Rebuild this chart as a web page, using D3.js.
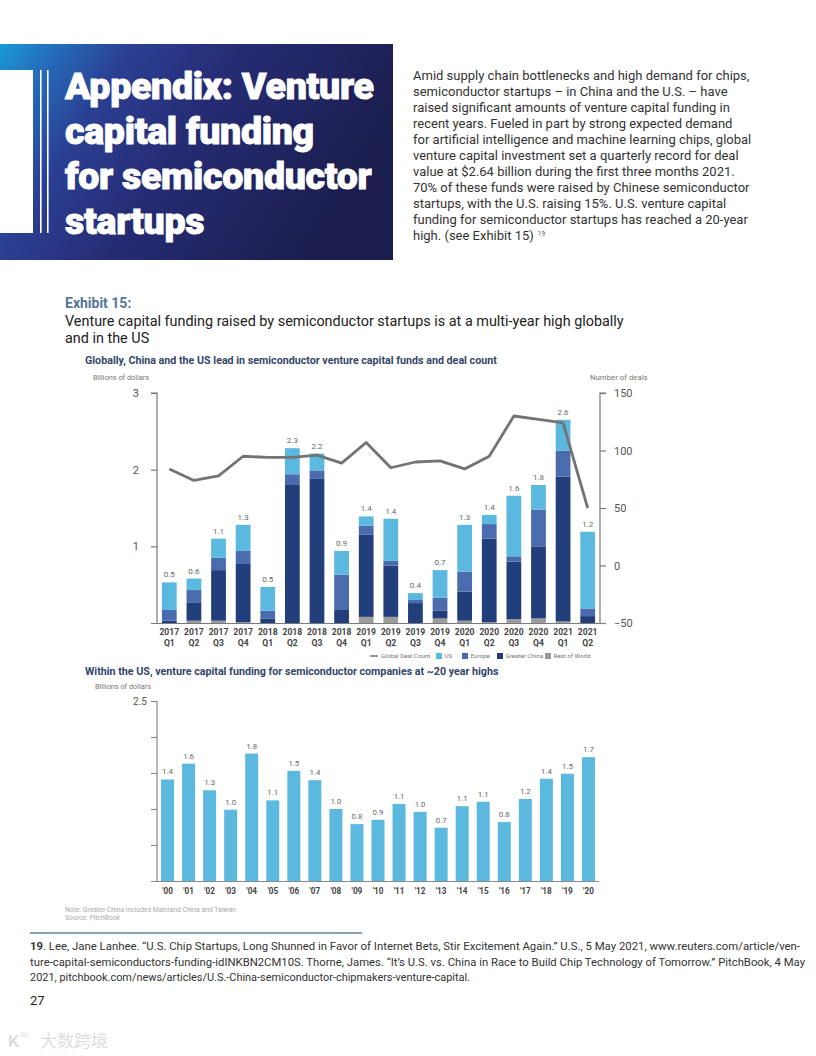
<!DOCTYPE html>
<html><head><meta charset="utf-8">
<script src="https://cdn.jsdelivr.net/npm/d3@7"></script>
<style>body{margin:0;background:#fff}svg{display:block}</style>
</head><body>
<script>
// ---------- DATA ----------
const quarters = ["2017 Q1","2017 Q2","2017 Q3","2017 Q4","2018 Q1","2018 Q2","2018 Q3","2018 Q4","2019 Q1","2019 Q2","2019 Q3","2019 Q4","2020 Q1","2020 Q2","2020 Q3","2020 Q4","2021 Q1","2021 Q2"];
const restOfWorld  = [0.00,0.03,0.03,0.01,0.00,0.00,0.00,0.00,0.08,0.08,0.00,0.06,0.03,0.01,0.05,0.06,0.02,0.00];
const greaterChina = [0.03,0.24,0.66,0.76,0.06,1.81,1.88,0.17,1.07,0.67,0.26,0.10,0.38,1.09,0.75,0.94,1.89,0.09];
const europe       = [0.14,0.16,0.16,0.17,0.10,0.13,0.11,0.46,0.12,0.06,0.04,0.17,0.26,0.19,0.07,0.48,0.34,0.10];
const us           = [0.36,0.15,0.25,0.34,0.31,0.34,0.22,0.31,0.12,0.55,0.09,0.36,0.61,0.12,0.79,0.32,0.40,1.00];
const totalLabels  = ["0.5","0.6","1.1","1.3","0.5","2.3","2.2","0.9","1.4","1.4","0.4","0.7","1.3","1.4","1.6","1.8","2.6","1.2"];
const dealCount    = [84,74,78,95,94,94,96,89,107,85,90,91,84,95,130,127,124,50];
const leftTicks    = [1,2,3];
const rightTicks   = [-50,0,50,100,150];
const seriesNames  = ["Rest of World","Greater China","Europe","US"];

const years    = ["'00","'01","'02","'03","'04","'05","'06","'07","'08","'09","'10","'11","'12","'13","'14","'15","'16","'17","'18","'19","'20"];
const usFunding = [1.41,1.63,1.26,0.99,1.77,1.12,1.53,1.40,1.00,0.79,0.85,1.07,0.96,0.74,1.04,1.10,0.82,1.14,1.42,1.49,1.72];
const usLabels  = ["1.4","1.6","1.3","1.0","1.8","1.1","1.5","1.4","1.0","0.8","0.9","1.1","1.0","0.7","1.1","1.1","0.8","1.2","1.4","1.5","1.7"];
const usTicks   = [0.5,1,1.5,2,2.5];

const titleLines = ["Appendix: Venture","capital funding","for semiconductor","startups"];
const bodyLines = [
"Amid supply chain bottlenecks and high demand for chips,",
"semiconductor startups – in China and the U.S. – have",
"raised significant amounts of venture capital funding in",
"recent years. Fueled in part by strong expected demand",
"for artificial intelligence and machine learning chips, global",
"venture capital investment set a quarterly record for deal",
"value at $2.64 billion during the first three months 2021.",
"70% of these funds were raised by Chinese semiconductor",
"startups, with the U.S. raising 15%. U.S. venture capital",
"funding for semiconductor startups has reached a 20-year",
"high. (see Exhibit 15)"];
const footLines = [
"Lee, Jane Lanhee. “U.S. Chip Startups, Long Shunned in Favor of Internet Bets, Stir Excitement Again.” U.S., 5 May 2021, www.reuters.com/article/ven-",
"ture-capital-semiconductors-funding-idINKBN2CM10S. Thorne, James. “It’s U.S. vs. China in Race to Build Chip Technology of Tomorrow.” PitchBook, 4 May",
"2021, pitchbook.com/news/articles/U.S.-China-semiconductor-chipmakers-venture-capital."];

// ---------- STYLE ----------
const colors = {"Rest of World":"#9b9b9b","Greater China":"#223f7c","Europe":"#4a6cae","US":"#5bb9e0"};
const F = "Roboto, 'Noto Sans', sans-serif";

const svg = d3.select("body").append("svg").attr("width",816).attr("height",1056);

// ---------- HEADER ----------
const defs = svg.append("defs");
const g1 = defs.append("linearGradient").attr("id","hdr").attr("x1","0").attr("y1","0").attr("x2","1").attr("y2","0.35");
[[0,"#1a9ad6"],[0.12,"#2470bd"],[0.3,"#2b3f93"],[0.55,"#262c74"],[1,"#1b1d4e"]].forEach(s=>g1.append("stop").attr("offset",s[0]).attr("stop-color",s[1]));
svg.append("rect").attr("x",0).attr("y",44).attr("width",393).attr("height",216).attr("fill","url(#hdr)");
svg.append("rect").attr("x",0).attr("y",70).attr("width",33).attr("height",163).attr("fill","#fff");
[40,47].forEach(x=>svg.append("rect").attr("x",x).attr("y",70).attr("width",1.6).attr("height",163).attr("fill","#fff"));
svg.append("g").selectAll("text").data(titleLines).join("text")
  .attr("x",65).attr("y",(d,i)=>99+i*45).attr("fill","#fff").attr("stroke","#fff").attr("stroke-width",0.9)
  .style("font-family",F).style("font-weight",900).style("font-size","37.5px").style("letter-spacing","-0.3px").text(d=>d);

const body = svg.append("g").style("font-family",F).style("font-size","13px").attr("fill","#333");
body.selectAll("text").data(bodyLines).join("text")
  .attr("x",413).attr("y",(d,i)=>80+i*16).text(d=>d);
body.select("text:last-child").append("tspan").attr("dx",4).attr("dy",-4).style("font-size","6.5px").attr("fill","#555").text("19");

// ---------- EXHIBIT TITLES ----------
svg.append("text").attr("x",65).attr("y",308).attr("fill","#56759c").style("font-family",F).style("font-weight",700).style("font-size","14px").text("Exhibit 15:");
svg.append("text").attr("x",65).attr("y",326).attr("fill","#222").style("font-family",F).style("font-size","14.4px").text("Venture capital funding raised by semiconductor startups is at a multi-year high globally");
svg.append("text").attr("x",65).attr("y",343).attr("fill","#222").style("font-family",F).style("font-size","14.4px").text("and in the US");
svg.append("text").attr("x",85).attr("y",364).attr("fill","#34466b").style("font-family",F).style("font-weight",700).style("font-size","10.7px").text("Globally, China and the US lead in semiconductor venture capital funds and deal count");

// ---------- TOP CHART ----------
const x1 = d3.scalePoint().domain(quarters).range([157,600]).padding(0.5);
const yL = d3.scaleLinear().domain([0,3]).range([623,393]);
const yR = d3.scaleLinear().domain([-50,150]).range([623,393]);
const bw1 = x1.step()*0.6;

const rows = quarters.map((q,i)=>({q,"Rest of World":restOfWorld[i],"Greater China":greaterChina[i],"Europe":europe[i],"US":us[i]}));
const stack = d3.stack().keys(seriesNames)(rows);
const topG = svg.append("g");
topG.selectAll("g.s").data(stack).join("g").attr("fill",d=>colors[d.key])
  .selectAll("rect").data(d=>d).join("rect")
  .attr("x",d=>x1(d.data.q)-bw1/2).attr("width",bw1)
  .attr("y",d=>yL(d[1])).attr("height",d=>Math.max(0,yL(d[0])-yL(d[1])));
topG.selectAll("text.v").data(quarters).join("text")
  .attr("x",q=>x1(q)).attr("y",(q,i)=>yL(restOfWorld[i]+greaterChina[i]+europe[i]+us[i])-5)
  .attr("text-anchor","middle").attr("fill","#666").style("font-family",F).style("font-size","8px").text((q,i)=>totalLabels[i]);

// line
topG.append("path").datum(dealCount).attr("fill","none").attr("stroke","#737373").attr("stroke-width",2.8).attr("stroke-linejoin","round")
  .attr("d",d3.line().x((d,i)=>x1(quarters[i])).y(d=>yR(d)));

// axes
const axL = svg.append("g").attr("transform","translate(157,0)").call(d3.axisLeft(yL).tickValues(leftTicks).tickSize(6).tickPadding(12).tickFormat(d3.format("d")));
const axR = svg.append("g").attr("transform","translate(600,0)").call(d3.axisRight(yR).tickValues(rightTicks).tickSize(6).tickPadding(8).tickFormat(d3.format("d")));
[axL,axR].forEach(a=>{a.select(".domain").attr("stroke","#7a7a7a").attr("stroke-width",1.2);
  a.selectAll(".tick line").attr("stroke","#7a7a7a").attr("stroke-width",1.2);
  a.selectAll(".tick text").attr("fill","#555").style("font-family",F).style("font-size","11px");});
axL.select(".domain").attr("d","M-6,393H0V623");
axR.select(".domain").attr("d","M6,393H0V623");
svg.append("line").attr("x1",151).attr("x2",603).attr("y1",623.5).attr("y2",623.5).attr("stroke","#7a7a7a").attr("stroke-width",1.2);

svg.append("text").attr("x",93).attr("y",380).attr("fill","#777").style("font-family",F).style("font-size","7.3px").text("Billions of dollars");
svg.append("text").attr("x",590).attr("y",380).attr("fill","#777").style("font-family",F).style("font-size","7.8px").text("Number of deals");

const xl = svg.append("g");
quarters.forEach(q=>{const [yr,qq]=q.split(" ");
  xl.append("text").attr("x",x1(q)).attr("y",635).attr("text-anchor","middle").attr("fill","#444").style("font-family",F).style("font-weight",700).style("font-size","8.6px").text(yr);
  xl.append("text").attr("x",x1(q)).attr("y",646).attr("text-anchor","middle").attr("fill","#444").style("font-family",F).style("font-weight",700).style("font-size","8.6px").text(qq);
});

// legend
const lg = svg.append("g").style("font-family",F).style("font-size","6.2px");
lg.append("line").attr("x1",370).attr("x2",378).attr("y1",656).attr("y2",656).attr("stroke","#737373").attr("stroke-width",1.5);
lg.append("text").attr("x",381).attr("y",658).attr("fill","#777").text("Global Deal Count");
const legItems = [["US",436],["Europe",462],["Greater China",497],["Rest of World",545]];
legItems.forEach(([k,x])=>{lg.append("rect").attr("x",x).attr("y",653).attr("width",6).attr("height",6).attr("fill",colors[k]);
  lg.append("text").attr("x",x+8.5).attr("y",658).attr("fill","#777").text(k);});

// ---------- BOTTOM CHART ----------
svg.append("text").attr("x",85).attr("y",675).attr("fill","#34466b").style("font-family",F).style("font-weight",700).style("font-size","10.7px").text("Within the US, venture capital funding for semiconductor companies at ~20 year highs");
svg.append("text").attr("x",95).attr("y",689).attr("fill","#777").style("font-family",F).style("font-size","7.3px").text("Billions of dollars");

const x2 = d3.scalePoint().domain(years).range([157,599]).padding(0.5);
const y2 = d3.scaleLinear().domain([0,2.5]).range([881,701]);
const bw2 = 13;
const botG = svg.append("g");
botG.selectAll("rect").data(years).join("rect").attr("fill",colors.US)
  .attr("x",d=>x2(d)-bw2/2).attr("width",bw2).attr("y",(d,i)=>y2(usFunding[i])).attr("height",(d,i)=>y2(0)-y2(usFunding[i]));
botG.selectAll("text.v").data(years).join("text")
  .attr("x",d=>x2(d)).attr("y",(d,i)=>y2(usFunding[i])-5).attr("text-anchor","middle").attr("fill","#666")
  .style("font-family",F).style("font-size","7.8px").text((d,i)=>usLabels[i]);
const ax2 = svg.append("g").attr("transform","translate(157,0)").call(d3.axisLeft(y2).tickValues(usTicks).tickSize(6).tickPadding(4).tickFormat(d=>d===2.5?"2.5":""));
ax2.select(".domain").attr("d","M0,701V881").attr("stroke","#8a8a8a").attr("stroke-width",1.2);
ax2.selectAll(".tick line").attr("stroke","#8a8a8a").attr("stroke-width",1.2);
ax2.selectAll(".tick text").attr("fill","#555").style("font-family",F).style("font-size","10px");
svg.append("line").attr("x1",151).attr("x2",599).attr("y1",881.5).attr("y2",881.5).attr("stroke","#8a8a8a").attr("stroke-width",1.2);
botG.selectAll("text.x").data(years).join("text").attr("x",d=>x2(d)).attr("y",894).attr("text-anchor","middle")
  .attr("fill","#444").style("font-family",F).style("font-weight",700).style("font-size","8.2px").text(d=>d);

// notes
svg.append("text").attr("x",65).attr("y",912).attr("fill","#aaa").style("font-family",F).style("font-size","6.8px").text("Note: Greater China includes Mainland China and Taiwan");
svg.append("text").attr("x",65).attr("y",920).attr("fill","#aaa").style("font-family",F).style("font-size","6.8px").text("Source: PitchBook");

svg.append("line").attr("x1",30).attr("x2",362).attr("y1",933).attr("y2",933).attr("stroke","#86a6b6").attr("stroke-width",2);
const fn = svg.append("g").style("font-family",F).style("font-size","10.6px").attr("fill","#333");
const l1 = fn.append("text").attr("x",30).attr("y",950).attr("textLength",770).attr("lengthAdjust","spacingAndGlyphs");
l1.append("tspan").style("font-weight",700).text("19");
l1.append("tspan").text(". "+footLines[0]);
fn.append("text").attr("x",30).attr("y",966).attr("textLength",775).attr("lengthAdjust","spacingAndGlyphs").text(footLines[1]);
fn.append("text").attr("x",30).attr("y",981).attr("textLength",440).attr("lengthAdjust","spacingAndGlyphs").text(footLines[2]);
svg.append("text").attr("x",30).attr("y",1005).attr("fill","#222").style("font-family",F).style("font-size","13px").text("27");

// watermark
svg.append("text").attr("x",8).attr("y",1047).attr("fill","#ddd").style("font-family",F).style("font-size","17px").style("font-weight",700).text("K");
svg.append("text").attr("x",20).attr("y",1037).attr("fill","#ddd").style("font-family",F).style("font-size","8px").text("∞");
svg.append("text").attr("x",40).attr("y",1047).attr("fill","#ddd").style("font-family","'Noto Sans CJK SC'").style("font-size","17px").text("大数跨境");
</script>
</body></html>
